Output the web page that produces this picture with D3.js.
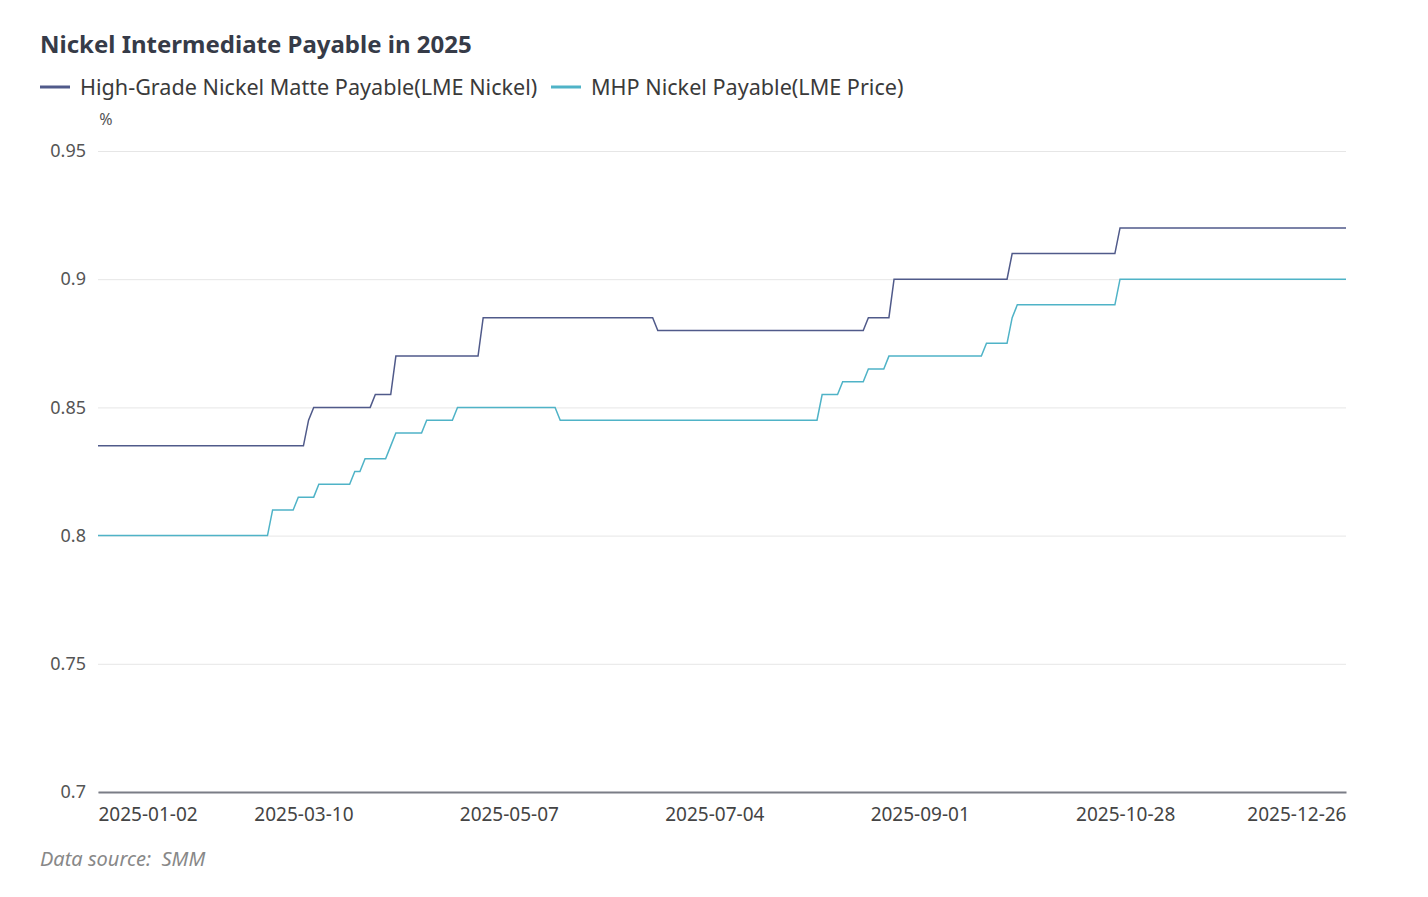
<!DOCTYPE html>
<html>
<head>
<meta charset="utf-8">
<script src="https://cdn.jsdelivr.net/npm/d3@7"></script>
<style>
  body { margin: 0; background: #fff; }
  svg text { font-family: "Noto Sans", "Open Sans", sans-serif; }
</style>
</head>
<body>
<script>
// x categories: working days of 2025 that have a quote
const firstDay = '2025-01-02';
const lastDay = '2025-12-26';
const skippedDays = ['2025-01-27', '2025-01-28', '2025-01-29', '2025-01-30', '2025-01-31',
  '2025-02-03', '2025-02-04', '2025-05-01', '2025-05-02', '2025-05-30', '2025-06-02',
  '2025-08-15', '2025-10-01'];
const xTickLabels = ['2025-01-02', '2025-03-10', '2025-05-07', '2025-07-04', '2025-09-01', '2025-10-28', '2025-12-26'];
const yTicks = [0.7, 0.75, 0.8, 0.85, 0.9, 0.95];

// each level holds from its date until the next change
const matteDates = ['2025-01-02', '2025-03-11', '2025-03-12', '2025-03-28', '2025-04-03', '2025-04-28',
  '2025-06-19', '2025-08-18', '2025-08-25', '2025-09-25', '2025-10-27'];
const matteValues = [0.835, 0.845, 0.85, 0.855, 0.87, 0.885, 0.88, 0.885, 0.9, 0.91, 0.92];

const mhpDates = ['2025-01-02', '2025-02-28', '2025-03-07', '2025-03-13', '2025-03-24', '2025-03-26',
  '2025-04-02', '2025-04-03', '2025-04-11', '2025-04-21', '2025-05-21', '2025-08-04', '2025-08-08',
  '2025-08-18', '2025-08-22', '2025-09-18', '2025-09-25', '2025-09-26', '2025-10-27'];
const mhpValues = [0.8, 0.81, 0.815, 0.82, 0.825, 0.83, 0.835, 0.84, 0.845, 0.85, 0.845, 0.855, 0.86,
  0.865, 0.87, 0.875, 0.885, 0.89, 0.9];

const seriesNames = ['High-Grade Nickel Matte Payable(LME Nickel)', 'MHP Nickel Payable(LME Price)'];
const seriesColors = ['#505a8a', '#4fb3c7'];

const fmt = d3.timeFormat('%Y-%m-%d');
const parse = d3.timeParse('%Y-%m-%d');

// build the category list
const days = d3.timeDay.range(parse(firstDay), d3.timeDay.offset(parse(lastDay), 1))
  .filter(d => d.getDay() !== 0 && d.getDay() !== 6)
  .map(fmt)
  .filter(d => !skippedDays.includes(d));

function holdLevels(changeDates, values) {
  return days.map(day => {
    let v = values[0];
    changeDates.forEach((c, i) => { if (c <= day) v = values[i]; });
    return { day: day, value: v };
  });
}
const series = [holdLevels(matteDates, matteValues), holdLevels(mhpDates, mhpValues)];

const width = 1428, height = 897;
const plotLeft = 98, plotRight = 1346, plotTop = 151, plotBottom = 792;

const svg = d3.select('body').append('svg')
  .attr('width', width)
  .attr('height', height);

const x = d3.scalePoint().domain(days).range([plotLeft, plotRight]);
const y = d3.scaleLinear().domain([0.7, 0.95]).range([plotBottom, plotTop]);

// title
svg.append('text')
  .attr('x', 40).attr('y', 53)
  .attr('font-size', 24).attr('font-weight', 'bold')
  .attr('fill', '#363b48')
  .text('Nickel Intermediate Payable in 2025');

// legend
const legendX = [40, 551];
seriesNames.forEach((name, i) => {
  const g = svg.append('g').attr('transform', `translate(${legendX[i]},87)`);
  g.append('line').attr('x1', 0).attr('x2', 30).attr('y1', 0).attr('y2', 0)
    .attr('stroke', seriesColors[i]).attr('stroke-width', 3);
  g.append('text').attr('x', 40).attr('y', 7.5)
    .attr('font-size', 21.6).attr('fill', '#3a3a3a')
    .text(name);
});

// unit
svg.append('text')
  .attr('x', 106).attr('y', 125)
  .attr('text-anchor', 'middle')
  .attr('font-size', 16).attr('fill', '#555')
  .text('%');

// y grid + labels
const yAxis = svg.append('g')
  .attr('transform', `translate(${plotLeft},0)`)
  .call(d3.axisLeft(y).tickValues(yTicks).tickSize(-(plotRight - plotLeft)).tickPadding(12).tickFormat(d => String(d)));
yAxis.select('.domain').remove();
yAxis.selectAll('.tick line').attr('stroke', '#e6e6e6');
yAxis.selectAll('.tick text').attr('font-size', 18).attr('fill', '#555');

// x axis
const xAxis = svg.append('g')
  .attr('transform', `translate(0,${plotBottom})`)
  .call(d3.axisBottom(x).tickValues(xTickLabels).tickSize(0).tickPadding(16));
xAxis.select('.domain').attr('stroke', '#7a7d86').attr('stroke-width', 2);
xAxis.selectAll('.tick text').attr('font-size', 19).attr('fill', '#444')
  .attr('text-anchor', (d, i) => i === 0 ? 'start' : (i === xTickLabels.length - 1 ? 'end' : 'middle'));

// lines
const line = d3.line().x(d => x(d.day)).y(d => y(d.value));
series.forEach((s, i) => {
  svg.append('path')
    .datum(s)
    .attr('fill', 'none')
    .attr('stroke', seriesColors[i])
    .attr('stroke-width', 1.5)
    .attr('d', line);
});

// source
svg.append('text')
  .attr('x', 40).attr('y', 866)
  .attr('font-size', 20).attr('font-style', 'italic')
  .attr('fill', '#888')
  .style('white-space', 'pre')
  .text('Data source:  SMM');
</script>
</body>
</html>
